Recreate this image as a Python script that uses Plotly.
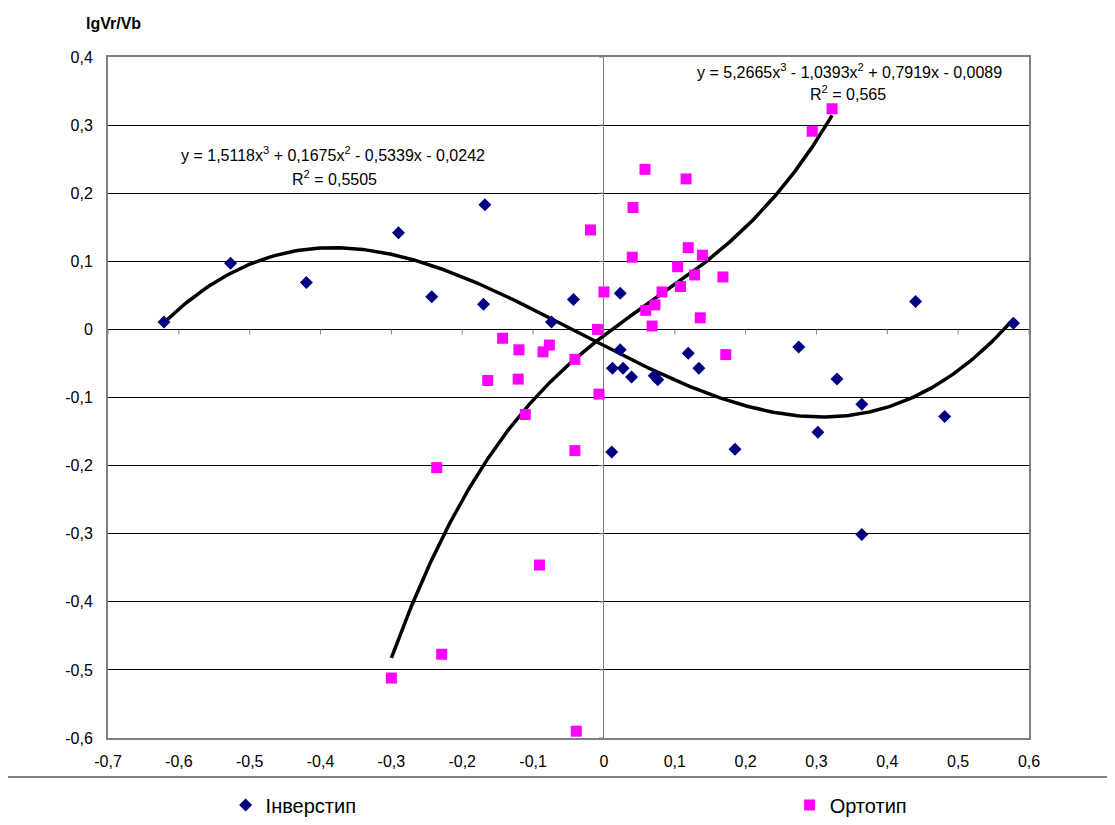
import numpy as np
import plotly.graph_objects as go

# ---- data ----
inv_name = "Інверстип"
inv_x = [-0.621, -0.527, -0.420, -0.290, -0.243, -0.168, -0.170, -0.074, -0.043, 0.023,
         0.023, 0.012, 0.027, 0.039, 0.071, 0.076, 0.011, 0.119, 0.134, 0.185,
         0.275, 0.302, 0.329, 0.364, 0.364, 0.440, 0.481, 0.578]
inv_y = [0.011, 0.097, 0.069, 0.142, 0.048, 0.183, 0.037, 0.011, 0.044, 0.053,
         -0.030, -0.057, -0.057, -0.070, -0.068, -0.074, -0.180, -0.035, -0.057, -0.176,
         -0.026, -0.151, -0.073, -0.110, -0.301, 0.041, -0.128, 0.009]

orto_name = "Ортотип"
orto_x = [0.058, 0.116, 0.041, -0.019, 0.119, 0.040, 0.139, 0.104, 0.128, 0.168,
          0.108, 0.000, 0.082, 0.072, 0.059, 0.068, 0.136, -0.009, -0.143, -0.120,
          -0.077, -0.086, -0.041, 0.172, -0.164, -0.121, -0.007, -0.111, -0.041, -0.236,
          -0.091, -0.229, -0.300, -0.039, 0.294, 0.322]
orto_y = [0.235, 0.221, 0.179, 0.146, 0.120, 0.106, 0.109, 0.092, 0.080, 0.077,
          0.063, 0.055, 0.055, 0.036, 0.028, 0.005, 0.017, 0.000, -0.013, -0.030,
          -0.023, -0.033, -0.044, -0.037, -0.075, -0.073, -0.095, -0.125, -0.178, -0.203,
          -0.346, -0.477, -0.512, -0.590, 0.291, 0.324]

# polynomial trendline coefficients (highest power first), as printed on the chart
inv_coef = [1.5118, 0.1675, -0.5339, -0.0242]
orto_coef = [5.2665, -1.0393, 0.7919, -0.0089]
inv_eq = "y = 1,5118x<sup>3</sup> + 0,1675x<sup>2</sup> - 0,5339x - 0,0242"
inv_r2 = "R<sup>2</sup> = 0,5505"
orto_eq = "y = 5,2665x<sup>3</sup> - 1,0393x<sup>2</sup> + 0,7919x - 0,0089"
orto_r2 = "R<sup>2</sup> = 0,565"

x_ticks = [-0.7, -0.6, -0.5, -0.4, -0.3, -0.2, -0.1, 0.0, 0.1, 0.2, 0.3, 0.4, 0.5, 0.6]
x_tick_labels = ["-0,7", "-0,6", "-0,5", "-0,4", "-0,3", "-0,2", "-0,1", "0",
                 "0,1", "0,2", "0,3", "0,4", "0,5", "0,6"]
y_ticks = [-0.6, -0.5, -0.4, -0.3, -0.2, -0.1, 0.0, 0.1, 0.2, 0.3, 0.4]
y_tick_labels = ["-0,6", "-0,5", "-0,4", "-0,3", "-0,2", "-0,1", "0",
                 "0,1", "0,2", "0,3", "0,4"]
y_title = "lgVr/Vb"

FONT = "Liberation Sans, Arial, sans-serif"

fig = go.Figure()

# trendlines
for xs, coef in ((inv_x, inv_coef), (orto_x, orto_coef)):
    tx = np.linspace(min(xs), max(xs), 300)
    fig.add_trace(go.Scatter(x=tx, y=np.polyval(coef, tx), mode="lines",
                             line=dict(color="black", width=3.5),
                             showlegend=False, hoverinfo="skip"))

fig.add_trace(go.Scatter(x=inv_x, y=inv_y, mode="markers", name=inv_name, legend="legend",
                         marker=dict(symbol="diamond", size=10, color="#000080",
                                     line=dict(width=0))))
fig.add_trace(go.Scatter(x=orto_x, y=orto_y, mode="markers", name=orto_name, legend="legend2",
                         marker=dict(symbol="square", size=11, color="#FF00FF",
                                     line=dict(width=0))))

# small tick marks on the axes that cross at zero
shapes = []
for v in x_ticks:
    shapes.append(dict(type="line", xref="x", yref="y", x0=v, x1=v,
                       ysizemode="pixel", yanchor=0, y0=0, y1=-5,
                       line=dict(color="#808080", width=1), layer="above"))
for v in y_ticks:
    shapes.append(dict(type="line", xref="x", yref="y", y0=v, y1=v,
                       xsizemode="pixel", xanchor=0, x0=-5, x1=0,
                       line=dict(color="#808080", width=1), layer="above"))
# legend frame
shapes.append(dict(type="rect", xref="paper", yref="paper",
                   x0=-0.1134, x1=1.10, y0=-0.0573, y1=-0.16,
                   line=dict(color="black", width=1), fillcolor="rgba(0,0,0,0)"))

annotations = [
    dict(x=-0.382, y=0.258, xref="x", yref="y", text=inv_eq, showarrow=False,
         xanchor="center", yanchor="middle", font=dict(size=16, color="black")),
    dict(x=-0.380, y=0.222, xref="x", yref="y", text=inv_r2, showarrow=False,
         xanchor="center", yanchor="middle", font=dict(size=16, color="black")),
    dict(x=0.346, y=0.379, xref="x", yref="y", text=orto_eq, showarrow=False,
         xanchor="center", yanchor="middle", font=dict(size=16, color="black")),
    dict(x=0.345, y=0.347, xref="x", yref="y", text=orto_r2, showarrow=False,
         xanchor="center", yanchor="middle", font=dict(size=16, color="black")),
    dict(x=0.0055, y=1.0498, xref="paper", yref="paper", text="<b>" + y_title + "</b>",
         showarrow=False, xanchor="center", yanchor="middle",
         font=dict(size=16, color="black")),
]

legend_common = dict(orientation="h", xanchor="left", y=-0.0984, yanchor="middle",
                     font=dict(size=20, color="black"), bgcolor="rgba(0,0,0,0)",
                     itemwidth=30, borderwidth=0)

fig.update_layout(
    width=1115, height=825,
    margin=dict(l=100, r=94, t=49, b=95, autoexpand=False),
    paper_bgcolor="white", plot_bgcolor="white",
    font=dict(family=FONT, size=16, color="black"),
    shapes=shapes, annotations=annotations,
    showlegend=True,
    legend=dict(x=0.1277, **legend_common),
    legend2=dict(x=0.7401, **legend_common),
    xaxis=dict(range=[-0.7, 0.6], tickmode="array", tickvals=x_ticks, ticktext=x_tick_labels,
               showgrid=False, zeroline=True, zerolinecolor="#808080", zerolinewidth=1,
               showline=True, mirror=True, linecolor="#808080", linewidth=2,
               ticks="", ticklabelstandoff=8, tickfont=dict(size=16)),
    yaxis=dict(range=[-0.6, 0.4], tickmode="array", tickvals=y_ticks, ticktext=y_tick_labels,
               showgrid=True, gridcolor="black", gridwidth=1,
               zeroline=True, zerolinecolor="black", zerolinewidth=1,
               showline=True, mirror=True, linecolor="#808080", linewidth=2,
               ticks="", ticklabelstandoff=10, tickfont=dict(size=16)),
)

fig.write_html("out.html")
